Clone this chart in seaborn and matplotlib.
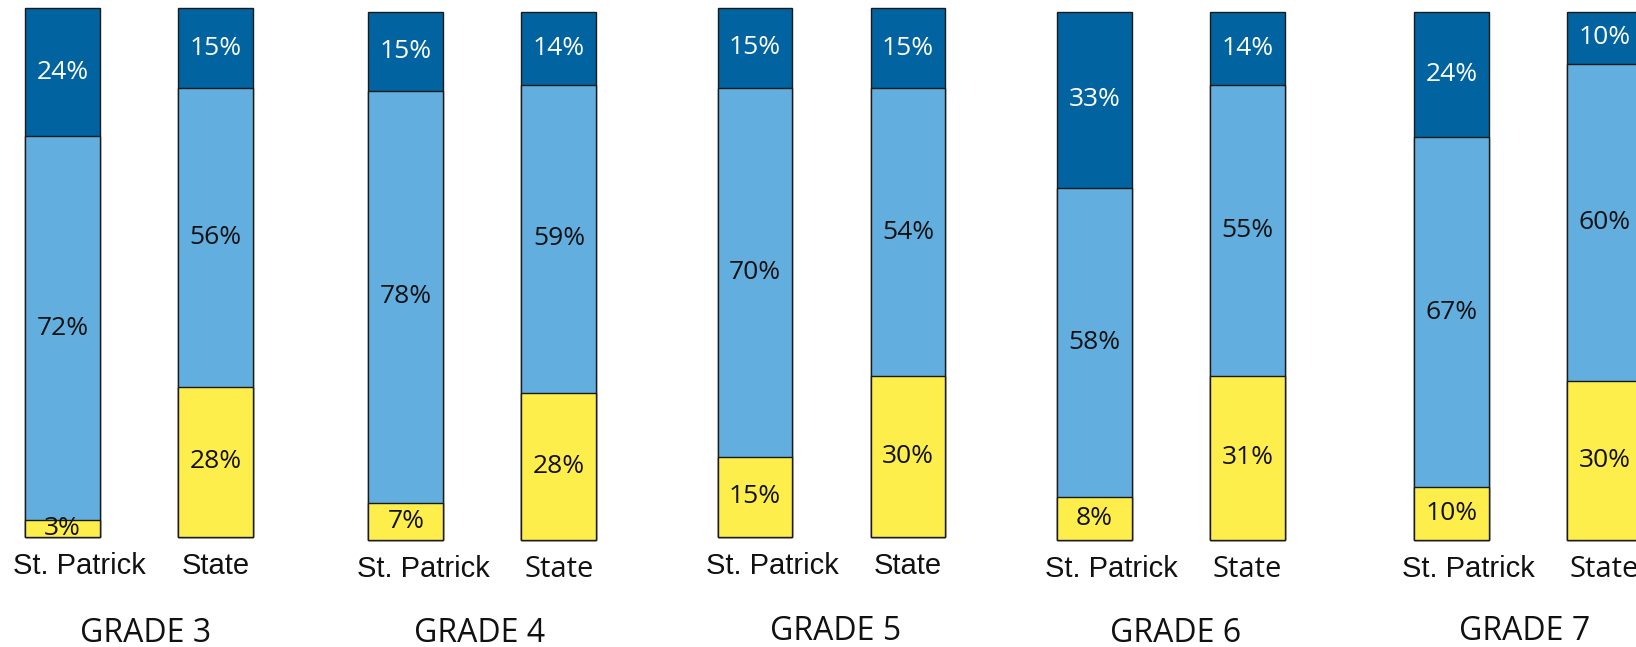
import numpy as np
import pandas as pd
import matplotlib.pyplot as plt
import matplotlib.transforms as mtransforms
import seaborn as sns

# Data (percent per performance band, St. Patrick vs State)
grades = ['GRADE 3', 'GRADE 4', 'GRADE 5', 'GRADE 6', 'GRADE 7']
schools = ['St. Patrick', 'State']
yellow = [[3, 28], [7, 28], [15, 30], [8, 31], [10, 30]]
light = [[72, 56], [78, 59], [70, 54], [58, 55], [67, 60]]
dark = [[24, 15], [15, 14], [15, 15], [33, 14], [24, 10]]

# Colours
c_dark = '#0163A0'
c_light = '#61AEDF'
c_yellow = '#FEEE4C'
edge = '#1a1a1a'

# Layout (pixels of the 1636x647 canvas): each grade panel was pasted separately
W, H = 1636, 647
sp_center = [62.6, 405.9, 755.0, 1094.6, 1451.4]
bar_top = [8.3, 11.5, 8.3, 11.5, 11.5]
bar_bottom = [536.5, 539.5, 536.5, 539.5, 539.5]
grade_y = [97, 94, 95, 94, 92]   # px below bar bottom
grade_dx = [6, -3, 4, 4, -3]     # px shift of the grade caption
unit = 153.0  # px between the two bars of a grade
arial = ['Liberation Sans', 'DejaVu Sans']
opensans = ['Open Sans', 'DejaVu Sans']
state_font = [arial, opensans, arial, opensans, opensans]

sns.set_style('white')
plt.rcParams['font.family'] = opensans

fig = plt.figure(figsize=(W / 100, H / 100), dpi=100)

for i, grade in enumerate(grades):
    df = pd.DataFrame({'school': schools,
                       'yellow': yellow[i], 'light': light[i], 'dark': dark[i]})
    total = df[['yellow', 'light', 'dark']].sum(axis=1)
    df['low'] = df['yellow'] / total * 100
    df['mid'] = (df['yellow'] + df['light']) / total * 100
    df['top'] = 100.0

    left = (sp_center[i] - 0.5 * unit) / W
    bottom = (H - bar_bottom[i]) / H
    height = (bar_bottom[i] - bar_top[i]) / H
    ax = fig.add_axes([left, bottom, 2 * unit / W, height])

    for col, colour in [('top', c_dark), ('mid', c_light), ('low', c_yellow)]:
        sns.barplot(data=df, x='school', y=col, color=colour, saturation=1,
                    width=0.49, edgecolor=edge, linewidth=1.0, ax=ax)
    for p in ax.patches:
        p.set_clip_on(False)

    for j in range(2):
        lo, mi = df['low'][j], df['mid'][j]
        ax.text(j, lo / 2, f"{yellow[i][j]}%", ha='center', va='center',
                fontsize=19, color='#111111')
        ax.text(j, (lo + mi) / 2, f"{light[i][j]}%", ha='center', va='center',
                fontsize=19, color='#111111')
        ax.text(j, (mi + 100) / 2, f"{dark[i][j]}%", ha='center', va='center',
                fontsize=19, color='white')

    ax.set_xlim(-0.5, 1.5)
    ax.set_ylim(0, 100)
    ax.set_yticks([])
    ax.set_ylabel('')
    ax.set_xlabel('')
    ax.tick_params(axis='x', length=0, pad=11)
    ax.set_xticks([0, 1])
    ticks = ax.set_xticklabels(schools, fontsize=21, color='#111111')
    ticks[0].set_family(arial)
    ticks[0].set_transform(ticks[0].get_transform() +
                           mtransforms.ScaledTranslation(0.17, 0, fig.dpi_scale_trans))
    ticks[1].set_family(state_font[i])
    ax.text(0.5 + grade_dx[i] / (2 * unit), -grade_y[i] / (bar_bottom[i] - bar_top[i]),
            grade, transform=ax.transAxes, ha='center', va='center', fontsize=23,
            color='#111111')
    sns.despine(ax=ax, left=True, bottom=True)
    ax.patch.set_alpha(0)

fig.savefig('out.png', dpi=100)
